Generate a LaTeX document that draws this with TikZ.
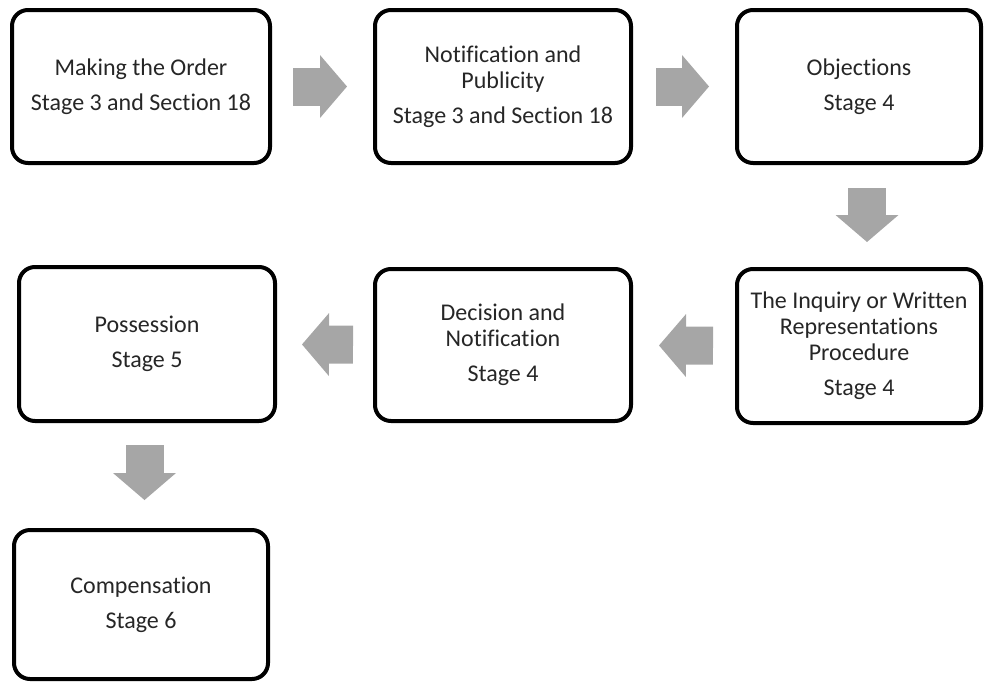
\documentclass[tikz,border=0pt]{standalone}
\usepackage{fontspec}
\setmainfont{Carlito}[Ligatures=NoCommon]
\usepackage{tikz}
\usetikzlibrary{arrows.meta}

\begin{document}
\begin{tikzpicture}[x=1pt,y=-1pt,
    stage/.style={draw, line width=4pt, rounded corners=16pt, align=center, inner sep=0pt,
      text=black!85, font=\fontsize{24}{26}\selectfont},
    flow/.style={draw=gray!70, line width=38pt,
      -{Triangle[length=27pt,width=63pt,line width=0pt]}}]

    \useasboundingbox (0,0) rectangle (986,681);

    % top row
    \node[stage, minimum width=258pt, minimum height=153pt] (order) at (141,86.5) {Making the Order\\[9pt]Stage 3 and Section 18};
    \node[stage, minimum width=256pt, minimum height=153pt] (notice) at (503,86.5) {Notification and\\Publicity\\[9pt]Stage 3 and Section 18};
    \node[stage, minimum width=244pt, minimum height=153pt] (obj) at (859,86.5) {Objections\\[9pt]Stage 4};

    % middle row
    \node[stage, minimum width=244pt, minimum height=154pt] (inq) at (859,346) {The Inquiry or Written\\Representations\\Procedure\\[9pt]Stage 4};
    \node[stage, minimum width=256pt, minimum height=152pt] (dec) at (503,345) {Decision and\\Notification\\[9pt]Stage 4};
    \node[stage, minimum width=256pt, minimum height=154pt] (poss) at (147,344) {Possession\\[9pt]Stage 5};

    % bottom
    \node[stage, minimum width=254pt, minimum height=149pt] (comp) at (141,604.5) {Compensation\\[9pt]Stage 6};

    \draw[flow, shorten <=21pt, shorten >=26pt] (order) -- (notice);
    \draw[flow, shorten <=23pt, shorten >=26pt] (notice) -- (obj);
    \draw[flow, shorten <=23pt, shorten >=25pt] ([xshift=8pt]obj.south) -- ([xshift=8pt]inq.north);
    \draw[flow, shorten <=22pt, shorten >=26pt] (inq) -- (dec);
    \draw[flow, shorten <=20pt, shorten >=25pt] (dec) -- (poss);
    \draw[flow, shorten <=22pt, shorten >=28pt] ([xshift=-2.5pt]poss.south) -- ([xshift=-2.5pt]poss.south |- comp.north);
\end{tikzpicture}
\end{document}
